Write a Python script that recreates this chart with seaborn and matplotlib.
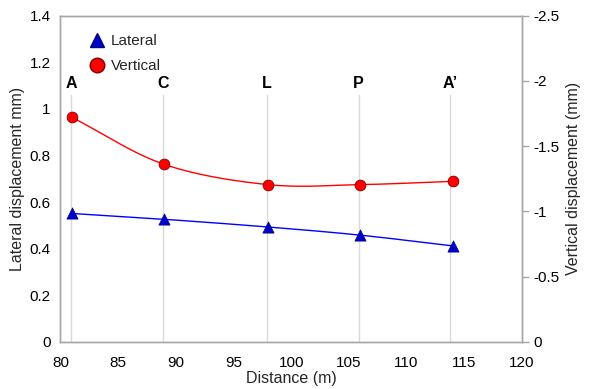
import numpy as np
import matplotlib
matplotlib.use("Agg")
import matplotlib.pyplot as plt
import seaborn as sns
import pandas as pd

distance = [81, 89, 98, 106, 114]
lateral = [0.551, 0.526, 0.493, 0.458, 0.412]
vertical = [-1.72, -1.36, -1.205, -1.205, -1.23]
site_labels = ["A", "C", "L", "P", "A\u2019"]
site_x = [80.9, 88.9, 97.9, 105.85, 113.75]

sns.set_theme(style="white")
plt.rcParams['font.family'] = ['Liberation Sans', 'DejaVu Sans']

def smooth(x, y, n=40):
    # Catmull-Rom style smoothing through the data points (Excel-like smooth line)
    x = np.asarray(x, float); y = np.asarray(y, float)
    px = np.concatenate([[2*x[0]-x[1]], x, [2*x[-1]-x[-2]]])
    py = np.concatenate([[2*y[0]-y[1]], y, [2*y[-1]-y[-2]]])
    xs, ys = [], []
    for i in range(1, len(px)-2):
        t = np.linspace(0, 1, n)
        p0, p1, p2, p3 = [np.array([px[j], py[j]]) for j in (i-1, i, i+1, i+2)]
        c1 = p1 + (p2 - p0) / 6
        c2 = p2 - (p3 - p1) / 6
        pts = ((1-t)**3)[:, None]*p1 + (3*(1-t)**2*t)[:, None]*c1 + (3*(1-t)*t**2)[:, None]*c2 + (t**3)[:, None]*p2
        xs.extend(pts[:, 0]); ys.extend(pts[:, 1])
    return np.array(xs), np.array(ys)

fig = plt.figure(figsize=(5.93, 3.89), dpi=100)
ax = fig.add_axes([0.102, 0.121, 0.778, 0.839])
ax2 = ax.twinx()

for xv, lab in zip(site_x, site_labels):
    ax.plot([xv, xv], [0, 1.058], color="#d9d9d9", lw=1, zorder=1)
    ax.text(xv, 1.075, lab, ha="center", va="bottom", fontsize=11.5, fontweight="bold", color="black")

sx, sy = smooth(distance, lateral)
ax.plot(sx, sy, color="#0000ff", lw=1, zorder=3)
df_l = pd.DataFrame({"Distance": distance, "Lateral": lateral})
sns.scatterplot(data=df_l, x="Distance", y="Lateral", ax=ax, marker="^", s=65,
                color="#0000cc", edgecolor="#000080", linewidth=0.5, zorder=4, legend=False)

vx, vy = smooth(distance, vertical)
ax2.plot(vx, vy, color="#ff0000", lw=1, zorder=3)
df_v = pd.DataFrame({"Distance": distance, "Vertical": vertical})
sns.scatterplot(data=df_v, x="Distance", y="Vertical", ax=ax2, marker="o", s=60,
                color="#ff0000", edgecolor="#800000", linewidth=0.6, zorder=4, legend=False)

ax.set_xlim(80, 120)
ax.set_ylim(0, 1.4)
ax.set_xticks(range(80, 121, 5))
ax.set_yticks(np.arange(0, 1.41, 0.2))
ax.set_yticklabels(["0", "0.2", "0.4", "0.6", "0.8", "1", "1.2", "1.4"])
ax2.set_ylim(0, -2.5)
ax2.set_yticks([0, -0.5, -1, -1.5, -2, -2.5])
ax2.set_yticklabels(["0", "-0.5", "-1", "-1.5", "-2", "-2.5"])

for a in (ax, ax2):
    for s in a.spines.values():
        s.set_color("#a6a6a6")
        s.set_linewidth(1)
ax.tick_params(axis="y", length=0, labelsize=11, colors="black", pad=7)
ax.tick_params(axis="x", length=0, labelsize=11, colors="black", pad=10)
ax2.tick_params(axis="y", length=5, color="#a6a6a6", width=1, labelsize=11, labelcolor="black", pad=3)

ax.set_xlabel("Distance (m)", fontsize=11.5, labelpad=1)
ax.set_ylabel("Lateral displacement mm)", fontsize=11.5, labelpad=3)
ax2.set_ylabel("Vertical displacement (mm)", fontsize=11.5, labelpad=5)

from matplotlib.lines import Line2D
handles = [Line2D([], [], marker="^", ls="none", color="#0000cc", markeredgecolor="#000080", markersize=10.5),
           Line2D([], [], marker="o", ls="none", color="#ff0000", markeredgecolor="#800000", markersize=10.5)]
leg = ax.legend(handles, ["Lateral", "Vertical"], loc="upper left", bbox_to_anchor=(0.03, 0.985),
                frameon=False, fontsize=11, handletextpad=0.3, labelspacing=0.7, handlelength=1.2)

fig.savefig("out.png", dpi=100)
